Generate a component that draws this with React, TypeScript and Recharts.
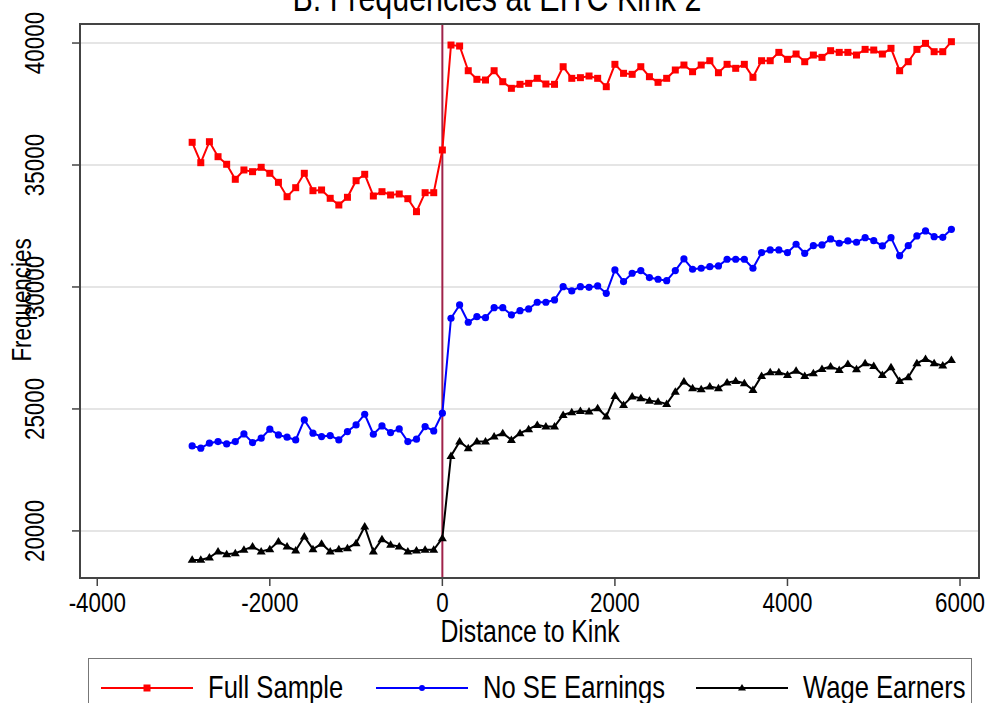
import React from "react";
import { LineChart, Line, XAxis, YAxis, CartesianGrid, ReferenceLine } from "recharts";

const distance = [
  -2900, -2800, -2700, -2600, -2500, -2400, -2300, -2200, -2100, -2000,
  -1900, -1800, -1700, -1600, -1500, -1400, -1300, -1200, -1100, -1000,
  -900, -800, -700, -600, -500, -400, -300, -200, -100, 0,
  100, 200, 300, 400, 500, 600, 700, 800, 900, 1000,
  1100, 1200, 1300, 1400, 1500, 1600, 1700, 1800, 1900, 2000,
  2100, 2200, 2300, 2400, 2500, 2600, 2700, 2800, 2900, 3000,
  3100, 3200, 3300, 3400, 3500, 3600, 3700, 3800, 3900, 4000,
  4100, 4200, 4300, 4400, 4500, 4600, 4700, 4800, 4900, 5000,
  5100, 5200, 5300, 5400, 5500, 5600, 5700, 5800, 5900,
];

const fullSample = [
  35930, 35095, 35955, 35340, 35030, 34414, 34796, 34726, 34906, 34660,
  34290, 33700, 34070, 34660, 33947, 33976, 33635, 33361, 33676, 34357,
  34619, 33730, 33906, 33771, 33812, 33620, 33087, 33865, 33865, 35615,
  39918, 39877, 38865, 38512, 38484, 38865, 38414, 38143, 38307, 38348,
  38553, 38320, 38307, 39029, 38553, 38580, 38648, 38553, 38210, 39127,
  38758, 38717, 39029, 38620, 38389, 38553, 38894, 39098, 38824, 39098,
  39275, 38783, 39127, 38963, 39127, 38594, 39275, 39275, 39617, 39332,
  39549, 39234, 39508, 39413, 39686, 39617, 39617, 39508, 39740, 39713,
  39549, 39783, 38865, 39234, 39740, 39986, 39645, 39645, 40055,
];

const noSE = [
  23485, 23390, 23595, 23661, 23567, 23661, 23977, 23620, 23800, 24169,
  23936, 23841, 23731, 24551, 24005, 23866, 23908, 23731, 24072, 24346,
  24783, 23963, 24305, 24030, 24182, 23661, 23759, 24276, 24100, 24825,
  28718, 29263, 28554, 28784, 28743, 29153, 29153, 28854, 29030, 29100,
  29374, 29374, 29468, 30014, 29837, 30014, 29987, 30042, 29741, 30698,
  30220, 30562, 30671, 30384, 30316, 30260, 30671, 31150, 30726, 30767,
  30833, 30862, 31136, 31136, 31136, 30767, 31407, 31517, 31517, 31407,
  31751, 31380, 31694, 31723, 31968, 31792, 31886, 31833, 32021, 31898,
  31681, 32021, 31284, 31694, 32091, 32296, 32063, 32036, 32365,
];

const wageEarners = [
  18813, 18813, 18909, 19155, 19046, 19087, 19223, 19360, 19155, 19252,
  19563, 19360, 19196, 19768, 19252, 19470, 19155, 19252, 19292, 19497,
  20177, 19155, 19661, 19428, 19360, 19155, 19196, 19223, 19223, 19702,
  23075, 23661, 23390, 23661, 23661, 23866, 24005, 23731, 24005, 24169,
  24346, 24276, 24276, 24756, 24866, 24920, 24892, 25031, 24687, 25535,
  25165, 25507, 25439, 25341, 25300, 25206, 25710, 26120, 25850, 25808,
  25915, 25850, 26079, 26148, 26055, 25780, 26354, 26506, 26506, 26395,
  26570, 26354, 26465, 26641, 26735, 26600, 26846, 26628, 26874, 26764,
  26395, 26710, 26148, 26300, 26874, 27050, 26874, 26776, 27010,
];

const xTicks = [-4000, -2000, 0, 2000, 4000, 6000];
const yTicks = [20000, 25000, 30000, 35000, 40000];

const data = distance.map((d, i) => ({
  d,
  full: fullSample[i],
  nose: noSE[i],
  wage: wageEarners[i],
}));

const FONT = "'Liberation Sans', Arial, sans-serif";
const SQUEEZE = 0.8;

// condensed text: Helvetica-narrow look of the original
const NarrowText = ({ x, y, size, anchor = "middle", rotate = 0, children }: any) => (
  <g transform={`translate(${x} ${y}) rotate(${rotate}) scale(${SQUEEZE} 1)`}>
    <text x={0} y={0} textAnchor={anchor} fontSize={size} fontFamily={FONT} fill="#000">
      {children}
    </text>
  </g>
);

const Square = ({ cx, cy }: any) =>
  cx == null || cy == null ? null : <rect x={cx - 3.5} y={cy - 3.5} width={7} height={7} fill="#ff0000" />;

const Circle = ({ cx, cy }: any) =>
  cx == null || cy == null ? null : <circle cx={cx} cy={cy} r={3.6} fill="#0000ff" />;

const Triangle = ({ cx, cy }: any) =>
  cx == null || cy == null ? null : (
    <polygon points={`${cx},${cy - 4.5} ${cx - 4.5},${cy + 3} ${cx + 4.5},${cy + 3}`} fill="#000" />
  );

const YTick = ({ y, payload }: any) => (
  <NarrowText x={44} y={y} size={28} rotate={-90}>
    {payload.value}
  </NarrowText>
);

const XTick = ({ x, payload }: any) => (
  <NarrowText x={x} y={612} size={28}>
    {payload.value}
  </NarrowText>
);

const legendItems = [
  { label: "Full Sample", color: "#ff0000", x: 12, shape: "square" },
  { label: "No SE Earnings", color: "#0000ff", x: 287, shape: "circle" },
  { label: "Wage Earners", color: "#000000", x: 607, shape: "triangle" },
];

export default function App() {
  return (
    <div style={{ position: "absolute", left: 0, top: 0, width: 997, height: 703, overflow: "hidden", background: "#fff" }}>
      <svg width={997} height={30} style={{ position: "absolute", left: 0, top: 0 }}>
        <NarrowText x={497} y={11} size={38}>
          B. Frequencies at EITC Kink 2
        </NarrowText>
      </svg>
      <LineChart
        width={997}
        height={703}
        data={data}
        margin={{ top: 24, right: 18, left: 20, bottom: 85 }}
      >
        <CartesianGrid horizontal vertical={false} stroke="#dcdcdc" strokeWidth={1.5} />
        <XAxis
          dataKey="d"
          type="number"
          domain={[-4200, 6220]}
          ticks={xTicks}
          allowDataOverflow
          height={40}
          axisLine={false}
          tickLine={{ stroke: "#444", strokeWidth: 1.5 }}
          tickSize={8}
          tick={<XTick />}
          interval={0}
        />
        <YAxis
          type="number"
          domain={[18070, 40780]}
          ticks={yTicks}
          allowDataOverflow
          width={60}
          axisLine={false}
          tickLine={{ stroke: "#444", strokeWidth: 1.5 }}
          tickSize={8}
          tick={<YTick />}
          interval={0}
        />
        <ReferenceLine x={0} stroke="#a0224a" strokeWidth={2} />
        <Line dataKey="full" stroke="#ff0000" strokeWidth={2} dot={<Square />} isAnimationActive={false} />
        <Line dataKey="nose" stroke="#0000ff" strokeWidth={2} dot={<Circle />} isAnimationActive={false} />
        <Line dataKey="wage" stroke="#000000" strokeWidth={2} dot={<Triangle />} isAnimationActive={false} />
      </LineChart>
      <div
        style={{
          position: "absolute",
          left: 79,
          top: 23,
          width: 901,
          height: 556,
          border: "2px solid #444",
          boxSizing: "border-box",
          pointerEvents: "none",
        }}
      />
      <svg width={40} height={703} style={{ position: "absolute", left: 0, top: 0 }}>
        <NarrowText x={31} y={300} size={28} rotate={-90}>
          Frequencies
        </NarrowText>
      </svg>
      <svg width={997} height={50} style={{ position: "absolute", left: 0, top: 612 }}>
        <NarrowText x={530} y={30} size={31}>
          Distance to Kink
        </NarrowText>
      </svg>
      <div
        style={{
          position: "absolute",
          left: 88,
          top: 658,
          width: 884,
          height: 60,
          border: "1.5px solid #777",
          boxSizing: "border-box",
        }}
      >
        <svg width={884} height={50} style={{ display: "block" }}>
          {legendItems.map((it) => {
            const mx = it.x + 46;
            const my = 29;
            return (
              <g key={it.label}>
                <line x1={it.x} x2={it.x + 92} y1={my} y2={my} stroke={it.color} strokeWidth={2} />
                {it.shape === "square" && <rect x={mx - 3.5} y={my - 3.5} width={7} height={7} fill={it.color} />}
                {it.shape === "circle" && <circle cx={mx} cy={my} r={3} fill={it.color} />}
                {it.shape === "triangle" && (
                  <polygon points={`${mx},${my - 4} ${mx - 4},${my + 2.5} ${mx + 4},${my + 2.5}`} fill={it.color} />
                )}
                <NarrowText x={it.x + 107} y={my + 10} size={32} anchor="start">
                  {it.label}
                </NarrowText>
              </g>
            );
          })}
        </svg>
      </div>
    </div>
  );
}
